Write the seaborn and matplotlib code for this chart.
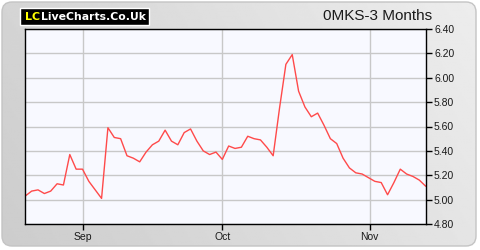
import numpy as np
import pandas as pd
import matplotlib
matplotlib.use("Agg")
import matplotlib.pyplot as plt
import seaborn as sns
from matplotlib.patches import FancyBboxPatch

# ---- data ----
prices = [5.03, 5.07, 5.08, 5.05, 5.07, 5.13, 5.12, 5.37, 5.25, 5.25,
          5.15, 5.08, 5.01, 5.59, 5.51, 5.50, 5.36, 5.34, 5.31, 5.39,
          5.45, 5.48, 5.57, 5.48, 5.45, 5.55, 5.58, 5.48, 5.40, 5.37,
          5.39, 5.33, 5.44, 5.42, 5.43, 5.52, 5.50, 5.49, 5.43, 5.36,
          5.75, 6.11, 6.19, 5.89, 5.76, 5.68, 5.71, 5.61, 5.50, 5.46,
          5.34, 5.26, 5.22, 5.21, 5.18, 5.15, 5.14, 5.04, 5.14, 5.25,
          5.21, 5.19, 5.16, 5.11]
month_labels = ["Sep", "Oct", "Nov"]
month_pos = [9, 31, 54.2]
y_ticks = [4.80, 5.00, 5.20, 5.40, 5.60, 5.80, 6.00, 6.20, 6.40]
title = "0MKS-3 Months"

df = pd.DataFrame({"day": np.arange(len(prices)), "price": prices})

sns.set_theme(style="white")
plt.rcParams['font.family'] = ['Liberation Sans', 'DejaVu Sans']

fig = plt.figure(figsize=(4.8, 2.5), dpi=100, facecolor="white")

# background panel with gradient
bg = fig.add_axes([0, 0, 1, 1])
bg.set_xlim(0, 480)
bg.set_ylim(250, 0)
bg.axis("off")
grad = np.linspace(0, 1, 256)
gx, gy = np.meshgrid(grad, grad)
vals = 0.80 + 0.13 * (0.75 * gx + 0.25 * (1 - gy))
img = bg.imshow(vals, cmap="gray", vmin=0, vmax=1, extent=[0, 480, 250, 0],
                aspect="auto", zorder=0)
panel = FancyBboxPatch((2, 2), 474, 244, boxstyle="round,pad=0,rounding_size=10",
                       facecolor="none", edgecolor="#c4c4c4", linewidth=1, zorder=1)
bg.add_patch(panel)
img.set_clip_path(panel)

# logo
bg.add_patch(plt.Rectangle((20, 8), 129, 17, facecolor="black", zorder=2))
bg.text(25, 17, "LC", color="#ffff00", fontsize=8, fontweight="bold",
        family="DejaVu Sans", va="center", ha="left", zorder=3)
bg.text(41, 17, "LiveCharts.Co.Uk", color="white", fontsize=7.8, fontweight="bold",
        family="DejaVu Sans", va="center", ha="left", zorder=3)
bg.text(432, 16, title, color="#1a1a1a", fontsize=11, va="center", ha="right", zorder=3)

# main axes
ax = fig.add_axes([25.3 / 480, 26 / 250, 400.4 / 480, 195 / 250])
ax.set_facecolor("#f8f9ff")
sns.lineplot(data=df, x="day", y="price", ax=ax, color="#ff4a4a", linewidth=1)
ax.set_xlim(0, len(prices) - 1)
ax.set_ylim(4.80, 6.40)
ax.set_yticks(y_ticks)
ax.set_yticklabels([f"{v:.2f}" for v in y_ticks])
ax.set_xticks(month_pos)
ax.set_xticklabels(month_labels)
ax.yaxis.tick_right()
ax.tick_params(axis="both", direction="out", length=4, width=1, color="black",
               labelsize=7.5, labelcolor="#1a1a1a", pad=2)
ax.tick_params(axis="y", right=True, left=False)
ax.tick_params(axis="x", bottom=True)
ax.grid(True, color="#c8c8c8", linewidth=1)
ax.set_axisbelow(True)
for s in ax.spines.values():
    s.set_visible(True)
    s.set_color("black")
    s.set_linewidth(1)
ax.set_xlabel("")
ax.set_ylabel("")

fig.savefig("out.png", dpi=100, facecolor="white")
